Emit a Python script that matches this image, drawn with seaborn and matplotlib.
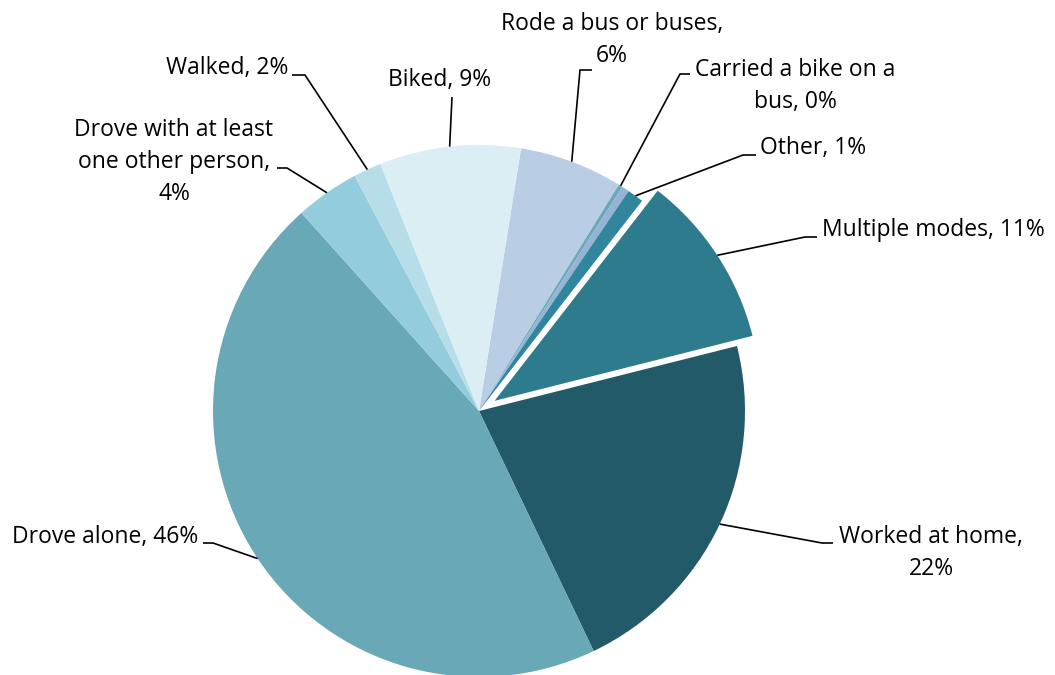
import matplotlib
matplotlib.use("Agg")
import matplotlib.pyplot as plt
import numpy as np
import seaborn as sns

# ---- data ----
categories = ["Rode a bus or buses", "Carried a bike on a bus", "(unlabeled)", "Other",
              "Multiple modes", "Worked at home", "Drove alone",
              "Drove with at least one other person", "Walked", "Biked"]
shares = [6.3, 0.25, 0.45, 1.0, 10.6, 21.9, 45.6, 3.9, 1.7, 8.6]
label_names = ["Rode a bus or buses,\n", "Carried a bike on a\nbus, ", None, "Other, ",
               "Multiple modes, ", "Worked at home,\n", "Drove alone, ",
               "Drove with at least\none other person,\n", "Walked, ", "Biked, "]
colors = ["#B9CDE5", "#6AA9B5", "#95B3D7", "#31859C", "#2E7B8E",
          "#225A69", "#69A8B7", "#93CDDD", "#B7DEE8", "#DBEEF4"]
explode_frac = [0, 0, 0, 0, 0.07, 0, 0, 0, 0, 0]

# ---- layout (pixel coordinates, y from top) ----
W, H = 1055, 675
center_px = (479, 411)
radius = 266
# elbow point, stub end, text position, ha
layout = [
    ((580, 70), (592, 70), (612, 40), "center"),
    ((680, 74), (690, 74), (795, 86), "center"),
    None,
    ((743, 155), (756, 155), (760, 148), "left"),
    ((805, 237), (817, 237), (822, 230), "left"),
    ((822, 543), (833, 543), (931, 553), "center"),
    ((213, 543), (203, 543), (198, 537), "right"),
    ((287, 168), (277, 168), (174, 162), "center"),
    ((305, 75), (292, 75), (288, 68), "right"),
    ((452, 97), (452, 97), (440, 80), "center"),
]

sns.set_theme(style="white")
plt.rcParams["font.family"] = ["Open Sans", "DejaVu Sans"]

fig = plt.figure(figsize=(W / 100, H / 100), dpi=100)
ax = fig.add_axes([0, 0, 1, 1])

def px(p):
    return (p[0], H - p[1])

wedges, _ = ax.pie(shares, colors=colors, explode=[e * radius for e in explode_frac],
                   startangle=80.9, counterclock=False, radius=radius,
                   center=px(center_px), wedgeprops=dict(linewidth=0))

for w, name, v, lay in zip(wedges, label_names, shares, layout):
    if lay is None or name is None:
        continue
    mid = np.deg2rad((w.theta1 + w.theta2) / 2)
    cx, cy = w.center
    anchor = (cx + w.r * np.cos(mid), cy + w.r * np.sin(mid))
    elbow = px(lay[0]); stub = px(lay[1]); tpos = px(lay[2])
    ax.plot([anchor[0], elbow[0], stub[0]], [anchor[1], elbow[1], stub[1]],
            color="black", lw=1.2, solid_capstyle="butt", zorder=3)
    ax.text(tpos[0], tpos[1], f"{name}{round(v)}%", ha=lay[3], va="center",
            multialignment="center", fontsize=16.5, color="black", linespacing=1.45)

ax.set_xlim(0, W)
ax.set_ylim(0, H)
ax.set_aspect("equal")
ax.axis("off")
fig.savefig("out.png", dpi=100, facecolor="white")
